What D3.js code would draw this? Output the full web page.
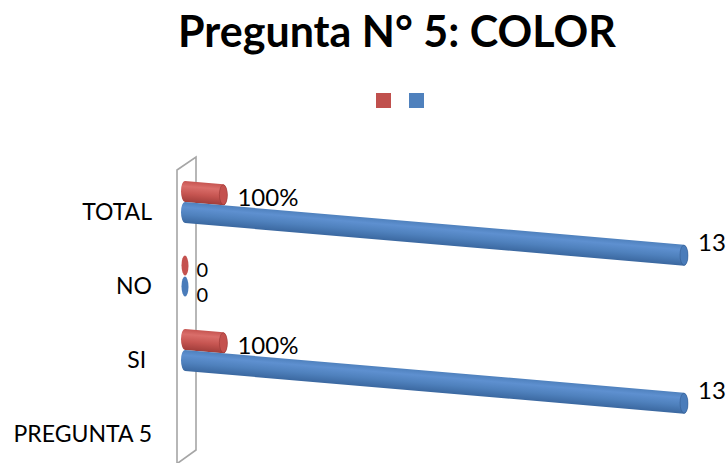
<!DOCTYPE html>
<html>
<head>
<meta charset="utf-8">
<script src="https://cdn.jsdelivr.net/npm/d3@7"></script>
<style>
  body { margin: 0; background: #fff; }
  text { font-family: Lato, "Open Sans", sans-serif; fill: #000; }
</style>
</head>
<body>
<svg id="chart" width="727" height="463"></svg>
<script>
// Categories, top to bottom
const categories = ["TOTAL", "NO", "SI ", "PREGUNTA 5"];
// Share series (1 = 100%) and count series
const shareValues = [1, 0, 1, null];
const countValues = [13, 0, 13, null];
const shareLabels = ["100%", "0", "100%", null];
const countLabels = ["13", "0", "13", null];
const titleText = "Pregunta N° 5: COLOR";
const seriesColors = ["#C0504D", "#4F81BD"];

const svg = d3.select("#chart");

// Scales
const x = d3.scaleLinear().domain([0, 13]).range([185, 684]);
const y = d3.scalePoint().domain(categories).range([202, 424]);

// 3D depth: bars recede downward to the right
const slope = 0.0855;
const skewDeg = Math.atan(slope) * 180 / Math.PI;
const x0 = x(0);
const radius = 10.5;
const capRx = 4;
const seriesOffset = [-10.5, 10.5];

// Gradients for cylinder shading
const defs = svg.append("defs");
function cylGrad(id, light, mid, dark) {
  const g = defs.append("linearGradient").attr("id", id)
    .attr("x1", 0).attr("y1", 0).attr("x2", 0).attr("y2", 1);
  g.append("stop").attr("offset", "0%").attr("stop-color", mid);
  g.append("stop").attr("offset", "25%").attr("stop-color", light);
  g.append("stop").attr("offset", "60%").attr("stop-color", mid);
  g.append("stop").attr("offset", "100%").attr("stop-color", dark);
}
cylGrad("gRed", "#da6e6a", "#c65551", "#a03d3a");
cylGrad("gBlue", "#5e90d0", "#4f81bd", "#3b68a0");

// Back wall panel
const wallL = x0 - 8, wallR = x0 + 11;
const wallTop = y(categories[0]) - 45;
const wallBottom = y(categories[categories.length - 1]) + 26;
svg.append("path")
  .attr("d", `M${wallL},463 L${wallL},${wallTop + 13} L${wallR},${wallTop} L${wallR},${wallBottom} L${wallL + 1},${wallBottom + 13}`)
  .attr("fill", "none")
  .attr("stroke", "#a6a6a6")
  .attr("stroke-width", 1.6);

// Title
svg.append("text")
  .attr("x", 397).attr("y", 47)
  .attr("text-anchor", "middle")
  .style("font-weight", "bold")
  .style("font-size", "43px")
  .text(titleText);

// Legend (series without names)
const legend = svg.append("g");
legend.selectAll("rect").data(seriesColors).join("rect")
  .attr("x", (d, i) => 376 + i * 33)
  .attr("y", 93)
  .attr("width", 15).attr("height", 15)
  .attr("fill", d => d);

// Category labels
svg.append("g").selectAll("text").data(categories).join("text")
  .attr("x", 152)
  .attr("y", d => y(d) + 9)
  .attr("text-anchor", "end")
  .attr("dominant-baseline", "central")
  .attr("xml:space", "preserve")
  .style("white-space", "pre")
  .style("font-size", "23px")
  .text(d => d);

// Cylinders
const plot = svg.append("g")
  .attr("transform", `translate(0,${-slope * x0}) skewY(${skewDeg})`);

function cylinderPath(xa, xb, cy, r, rx) {
  return `M${xa},${cy - r} L${xb},${cy - r} A${rx},${r} 0 0 1 ${xb},${cy + r} ` +
         `L${xa},${cy + r} A${rx},${r} 0 0 1 ${xa},${cy - r} Z`;
}

const series = [
  { values: shareValues, labels: shareLabels, grad: "url(#gRed)", cap: "#c4514e", edge: "#8f3431" },
  { values: countValues, labels: countLabels, grad: "url(#gBlue)", cap: "#4a7cba", edge: "#2f578a" }
];

series.forEach((s, si) => {
  const rows = categories.map((c, i) => ({ cat: c, v: s.values[i], lab: s.labels[i] }))
    .filter(d => d.v !== null);
  const g = plot.append("g");
  rows.forEach(d => {
    const cy = y(d.cat) + seriesOffset[si];
    const xe = x(d.v);
    const rx = d.v === 0 ? 3.5 : capRx;
    if (d.v > 0) {
      g.append("path")
        .attr("d", cylinderPath(x0, xe, cy, radius, rx))
        .attr("fill", s.grad);
    }
    g.append("ellipse")
      .attr("cx", xe).attr("cy", cy)
      .attr("rx", rx).attr("ry", radius - 0.5)
      .attr("fill", s.cap)
      .attr("stroke", s.edge)
      .attr("stroke-width", d.v === 0 ? 0 : 0.8)
      .attr("stroke-opacity", 0.6);
  });

  // Value labels
  svg.append("g").selectAll("text").data(rows).join("text")
    .attr("x", d => x(d.v) + (d.v === 0 ? 3.5 : capRx) + (d.v === 0 ? 8 : 10))
    .attr("y", d => {
      const cy = y(d.cat) + seriesOffset[si] + slope * (x(d.v) - x0);
      if (d.v === 0) return cy + (si === 0 ? 3 : 7);
      return si === 0 ? cy + 2 : cy - 14;
    })
    .attr("dominant-baseline", "central")
    .style("font-size", d => d.v === 0 ? "20px" : "24px")
    .text(d => d.lab);
});
</script>
</body>
</html>
